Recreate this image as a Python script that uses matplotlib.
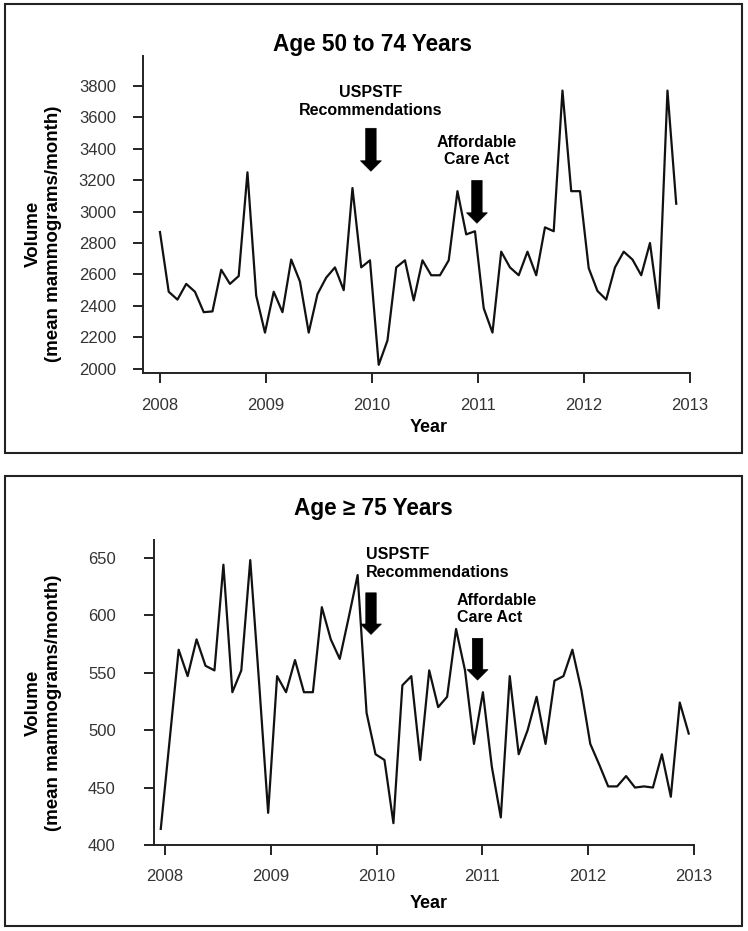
import numpy as np
import matplotlib
matplotlib.use('Agg')
import matplotlib.pyplot as plt
from matplotlib.patches import Rectangle

plt.rcParams['font.family'] = ['Liberation Sans', 'DejaVu Sans']

# ---------------- data ----------------
year_ticks = [2008, 2009, 2010, 2011, 2012, 2013]
top_yticks = [2000, 2200, 2400, 2600, 2800, 3000, 3200, 3400, 3600, 3800]
bottom_yticks = [400, 450, 500, 550, 600, 650]

# Age 50 to 74: monthly mean mammograms (Jan 2008 ...)
vol_50_74 = [2870, 2490, 2440, 2540, 2490, 2360, 2365, 2630, 2540, 2590,
             3250, 2465, 2230, 2490, 2360, 2695, 2555, 2230, 2475, 2580,
             2645, 2500, 3150, 2645, 2690, 2025, 2180, 2645, 2690, 2435,
             2690, 2595, 2595, 2690, 3130, 2855, 2875, 2385, 2230, 2745,
             2645, 2595, 2745, 2595, 2900, 2875, 3770, 3130, 3130, 2640,
             2495, 2440, 2645, 2745, 2695, 2595, 2800, 2385, 3770, 3050]

# Age >= 75
vol_75 = [414, 492, 570, 547, 579, 556, 552, 644, 533, 552,
          648, 540, 428, 547, 533, 561, 533, 533, 607, 579,
          562, 598, 635, 515, 479, 474, 419, 539, 547, 474,
          552, 520, 529, 588, 552, 488, 533, 468, 424, 547,
          479, 500, 529, 488, 543, 547, 570, 535, 488, 470,
          451, 451, 460, 450, 451, 450, 479, 442, 524, 497]

top_dates = np.linspace(2008.0, 2012.87, len(vol_50_74))
bottom_dates = np.linspace(2007.96, 2012.95, len(vol_75))

titles = ['Age 50 to 74 Years', 'Age \u2265 75 Years']
event_labels = ['USPSTF\nRecommendations', 'Affordable\nCare Act']
ylabel_text = 'Volume\n(mean mammograms/month)'

# ---------------- figure ----------------
W, H = 748, 931
fig = plt.figure(figsize=(W / 100, H / 100), dpi=100)


def fx(px):
    return px / W


def fy(py):
    return 1 - py / H


LINE_COLOR = '#111111'
TICK_COLOR = '#333333'


def style_axes(ax, xlim, ylim, yticks, ypad, xpad):
    ax.set_xlim(*xlim)
    ax.set_ylim(*ylim)
    ax.set_xticks(year_ticks)
    ax.set_xticklabels([str(y) for y in year_ticks])
    ax.set_yticks(yticks)
    ax.set_yticklabels([str(v) for v in yticks])
    for s in ['top', 'right']:
        ax.spines[s].set_visible(False)
    for s in ['left', 'bottom']:
        ax.spines[s].set_linewidth(1.4)
        ax.spines[s].set_color('#222222')
    ax.tick_params(axis='both', direction='out', length=7.5, width=1.4,
                   color='#222222', labelsize=12, labelcolor=TICK_COLOR)
    ax.tick_params(axis='y', pad=ypad)
    ax.tick_params(axis='x', pad=xpad)
    ax.patch.set_alpha(0)


def arrow(ax, x, y0, y1):
    ax.annotate('', xy=(x, y1), xytext=(x, y0),
                arrowprops=dict(arrowstyle='simple,tail_width=0.75,head_width=1.5,head_length=0.75',
                                mutation_scale=10, fc='black', ec='black',
                                shrinkA=0, shrinkB=0, lw=0.5))


# ---------- top panel ----------
ax1 = fig.add_axes([fx(143), fy(372.7), fx(690) - fx(143), fy(56) - fy(372.7)])
ax1.plot(top_dates, vol_50_74, color=LINE_COLOR, lw=1.6)
style_axes(ax1, (2007.84, 2013.0), (1975, 3990), top_yticks, ypad=12, xpad=11)
ax1.text(2009.99, 3700, event_labels[0], ha='center', va='center',
         fontsize=11.5, fontweight='bold', linespacing=1.2)
arrow(ax1, 2009.99, 3530, 3257)
ax1.text(2010.99, 3384, event_labels[1], ha='center', va='center',
         fontsize=11.5, fontweight='bold', linespacing=1.2)
arrow(ax1, 2010.99, 3198, 2926)

fig.text(fx(372), fy(44), titles[0], ha='center', va='center',
         fontsize=16.3, fontweight='bold')
fig.text(fx(429), fy(427), 'Year', ha='center', va='center',
         fontsize=13, fontweight='bold')
fig.text(fx(43), fy(234), ylabel_text, ha='center', va='center', rotation=90,
         fontsize=13.5, fontweight='bold', linespacing=1.25, multialignment='center')

# ---------- bottom panel ----------
ax2 = fig.add_axes([fx(154), fy(845), fx(694) - fx(154), fy(540) - fy(845)])
ax2.plot(bottom_dates, vol_75, color=LINE_COLOR, lw=1.6)
style_axes(ax2, (2007.896, 2013.0), (400, 665.5), bottom_yticks, ypad=20, xpad=10)
ax2.text(2009.897, 645, event_labels[0], ha='left', va='center',
         fontsize=11.5, fontweight='bold', linespacing=1.2)
arrow(ax2, 2009.947, 619.5, 583.3)
ax2.text(2010.757, 605.2, event_labels[1], ha='left', va='center',
         fontsize=11.5, fontweight='bold', linespacing=1.2)
arrow(ax2, 2010.954, 579.9, 543.6)

fig.text(fx(373), fy(509), titles[1], ha='center', va='center',
         fontsize=16.3, fontweight='bold')
fig.text(fx(429), fy(903), 'Year', ha='center', va='center',
         fontsize=13, fontweight='bold')
fig.text(fx(43), fy(703), ylabel_text, ha='center', va='center', rotation=90,
         fontsize=13.5, fontweight='bold', linespacing=1.25, multialignment='center')

# ---------- panel frames ----------
for (t, b) in [(4, 453), (476, 926)]:
    fig.add_artist(Rectangle((fx(5), fy(b)), fx(742) - fx(5), fy(t) - fy(b),
                             transform=fig.transFigure, fill=False,
                             lw=1.5, ec='#222222'))

fig.savefig('out.png', dpi=100, facecolor='white')
